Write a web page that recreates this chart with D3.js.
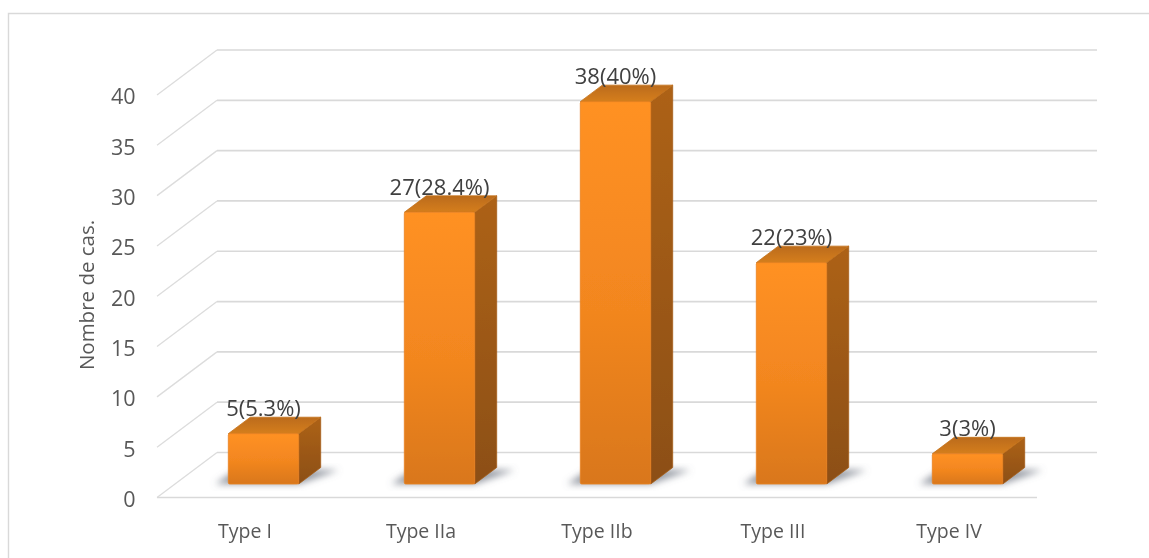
<!DOCTYPE html>
<html>
<head>
<meta charset="utf-8">
<script src="https://cdn.jsdelivr.net/npm/d3@7/dist/d3.min.js"></script>
<style>
html,body{margin:0;padding:0;background:#fff;overflow:hidden}
svg{display:block}
text{font-family:"Open Sans",sans-serif}
</style>
</head>
<body>
<div id="chart"></div>
<script>
const categories = ["Type I","Type IIa","Type IIb","Type III","Type IV"];
const values = [5,27,38,22,3];
const barLabels = ["5(5.3%)","27(28.4%)","38(40%)","22(23%)","3(3%)"];
const yTicks = [0,5,10,15,20,25,30,35,40];
const yTitle = "Nombre de cas.";

const W=1149,H=558;
const svg=d3.select("#chart").append("svg").attr("width",W).attr("height",H);
const defs=svg.append("defs");
const soft=defs.append("filter").attr("id","soft").attr("x","-5%").attr("y","-5%").attr("width","110%").attr("height","110%");
soft.append("feGaussianBlur").attr("stdDeviation",0.7);
const textSoft=defs.append("filter").attr("id","textSoft");
textSoft.append("feGaussianBlur").attr("stdDeviation",0.4);
const sh=defs.append("filter").attr("id","shadow").attr("x","-50%").attr("y","-50%").attr("width","200%").attr("height","200%");
sh.append("feGaussianBlur").attr("stdDeviation",3.5);
function grad(id,stops,x2,y2){
  const g=defs.append("linearGradient").attr("id",id).attr("x1",0).attr("y1",0).attr("x2",x2).attr("y2",y2);
  stops.forEach(s=>g.append("stop").attr("offset",s[0]).attr("stop-color",s[1]));
}
grad("front",[[0,"#ff9124"],[0.55,"#f2861f"],[1,"#d9771e"]],0,1);
grad("side",[[0,"#ad6219"],[1,"#8c4f12"]],0,1);
grad("topFace",[[0,"#bb6b1a"],[1,"#d57e1c"]],0,1);

const x=d3.scaleBand().domain(categories).range([157,1037]).paddingInner(0.6).paddingOuter(0.3);
const y=d3.scaleLinear().domain([0,40]).range([497.5,95]);

// projection offsets of the 3D box
const wall={dx:60,dy:-45}, barFront={dx:18.5,dy:-13.5}, barBack={dx:40.5,dy:-30};

// frame
svg.append("path").attr("d",`M1149,13.5H8.5V558`).attr("fill","none").attr("stroke","#d9d9d9").attr("stroke-width",1.4);

const scene=svg.append("g").attr("filter","url(#soft)");
// back wall gridlines
scene.append("g").selectAll("line").data(yTicks).join("line")
  .attr("x1",x.range()[0]+wall.dx).attr("x2",x.range()[1]+wall.dx)
  .attr("y1",d=>y(d)+wall.dy).attr("y2",d=>y(d)+wall.dy)
  .attr("stroke","#d9d9d9").attr("stroke-width",1.7);
// side wall lines
scene.append("g").selectAll("line").data(yTicks).join("line")
  .attr("x1",x.range()[0]).attr("x2",x.range()[0]+wall.dx)
  .attr("y1",d=>y(d)).attr("y2",d=>y(d)+wall.dy)
  .attr("stroke","#dcdcdc").attr("stroke-width",1.3);
// floor front edge
scene.append("line").attr("x1",x.range()[0]).attr("x2",x.range()[1])
  .attr("y1",y(0)).attr("y2",y(0)).attr("stroke","#d9d9d9").attr("stroke-width",1.7);

const bw=x.bandwidth();
const L=d=>x(d)+barFront.dx, R=d=>L(d)+bw;
const base=y(0)+barFront.dy;
const topY=(i)=>y(values[i])+barFront.dy;
const ddx=barBack.dx-barFront.dx, ddy=barBack.dy-barFront.dy;
const shadows=scene.append("g").attr("filter","url(#shadow)");
shadows.selectAll("path").data(categories).join("path")
  .attr("d",d=>`M${L(d)-13},${base}L${L(d)+8},${base-14}H${R(d)+40}L${R(d)},${base}Z`)
  .attr("fill","#6d7380").attr("opacity",0.75);
const bars=scene.append("g").selectAll("g").data(categories).join("g");
bars.append("path").attr("fill","url(#side)").attr("stroke","#a55c16").attr("stroke-width",0.8).attr("stroke-linejoin","round")
  .attr("d",(d,i)=>`M${R(d)},${topY(i)}L${R(d)+ddx},${topY(i)+ddy}V${base+ddy}L${R(d)},${base}Z`);
bars.append("path").attr("fill","url(#topFace)").attr("stroke","#c4711a").attr("stroke-width",0.8).attr("stroke-linejoin","round")
  .attr("d",(d,i)=>`M${L(d)},${topY(i)}L${L(d)+ddx},${topY(i)+ddy}H${R(d)+ddx}L${R(d)},${topY(i)}Z`);
bars.append("rect").attr("x",L).attr("y",(d,i)=>topY(i)).attr("width",bw).attr("height",(d,i)=>base-topY(i))
  .attr("fill","url(#front)").attr("stroke","#e8821f").attr("stroke-width",0.8).attr("rx",1.5);

const textLayer=svg.append("g").attr("filter","url(#textSoft)");
// axes
const axL=textLayer.append("g").attr("transform","translate(135.5,2)")
  .call(d3.axisLeft(y).tickValues(yTicks).tickSize(0).tickPadding(0));
axL.select(".domain").remove();
axL.selectAll("text").attr("font-size",21.5).attr("fill","#595959").style("font-family",'"Open Sans",sans-serif');
const axB=textLayer.append("g").attr("transform",`translate(0,${y(0)+33.5})`)
  .call(d3.axisBottom(x).tickSize(0).tickPadding(0));
axB.select(".domain").remove();
axB.selectAll("text").attr("font-size",19.5).attr("fill","#595959").attr("dy","0.35em").style("font-family",'"Open Sans",sans-serif');

textLayer.append("text").attr("transform","translate(87,295) rotate(-90)").attr("text-anchor","middle")
  .attr("dy","0.35em").attr("font-size",20.5).attr("fill","#595959").text(yTitle);

textLayer.append("g").selectAll("text").data(categories).join("text")
  .attr("x",d=>L(d)+bw/2).attr("y",(d,i)=>topY(i)-17.5)
  .attr("text-anchor","middle").attr("font-size",22).attr("fill","#404040")
  .text((d,i)=>barLabels[i]);
</script>
</body>
</html>
